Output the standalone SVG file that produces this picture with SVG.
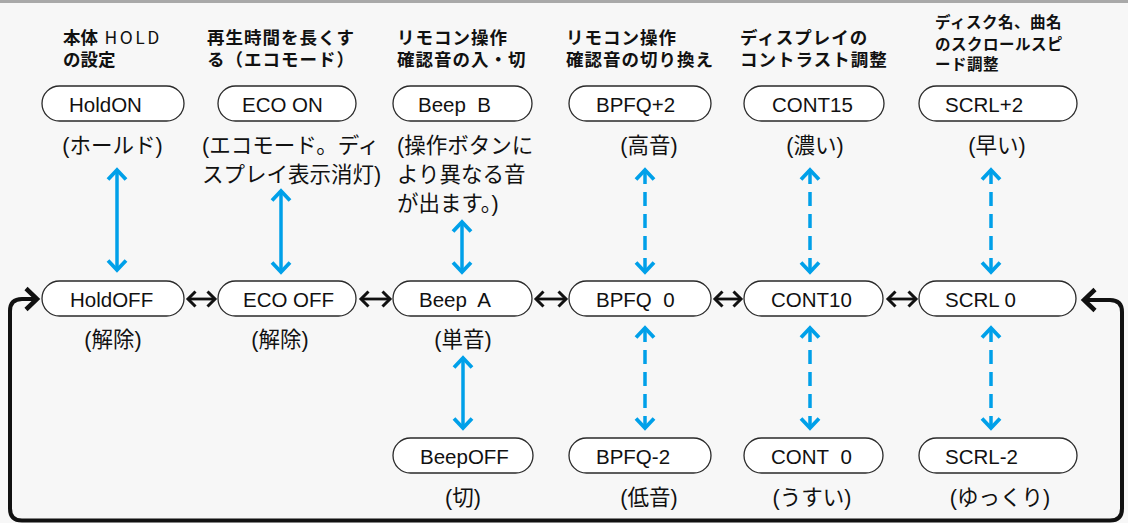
<svg xmlns="http://www.w3.org/2000/svg" width="1128" height="523" viewBox="0 0 1128 523">
<style>
.pill{fill:#fff;stroke:#2a2a2a;stroke-width:1.3}
.pt{font-family:"Liberation Sans",Arial,sans-serif;font-size:20.5px;fill:#111}
.sub{font-family:"Liberation Sans","Noto Sans CJK JP",sans-serif;font-size:21.5px;fill:#111}
.hd{font-family:"Noto Sans CJK JP",sans-serif;font-weight:bold;font-size:17.5px;fill:#111}
.hd6{font-family:"Noto Sans CJK JP",sans-serif;font-weight:bold;font-size:15.5px;fill:#111}
.blue{fill:none;stroke:#00a0e9;stroke-width:3.5}
.dash{stroke-dasharray:14 8}
.blk{fill:none;stroke:#111;stroke-width:2.8}
.loop{fill:none;stroke:#111;stroke-width:4}
</style>
<defs>
<marker id="mb" markerUnits="userSpaceOnUse" orient="auto-start-reverse" refX="0" refY="0" markerWidth="1" markerHeight="1" overflow="visible">
<path d="M-9.5,-9 L0,0 L-9.5,9" fill="none" stroke="#00a0e9" stroke-width="3.8"/>
</marker>
<marker id="mk" markerUnits="userSpaceOnUse" orient="auto-start-reverse" refX="0" refY="0" markerWidth="1" markerHeight="1" overflow="visible">
<path d="M-7.5,-7.5 L0,0 L-7.5,7.5" fill="none" stroke="#111" stroke-width="3"/>
</marker>
<marker id="ml" markerUnits="userSpaceOnUse" orient="auto-start-reverse" refX="0" refY="0" markerWidth="1" markerHeight="1" overflow="visible">
<path d="M-11,-10.5 L0,0 L-11,10.5" fill="none" stroke="#111" stroke-width="4.5"/>
</marker>
</defs>
<rect x="0" y="0" width="1128" height="523" fill="#f7f7f7"/>
<rect x="0" y="0" width="1128" height="3" fill="#a9a9a9"/>

<g id="headers">
<text class="hd" x="63" y="44">本体<tspan font-weight="normal" letter-spacing="2.5"> HOLD</tspan></text>
<text class="hd" x="63" y="66">の設定</text>
<text class="hd" x="207" y="44" letter-spacing="1">再生時間を長くす</text>
<text class="hd" x="207" y="66" letter-spacing="1">る（エコモード）</text>
<text class="hd" x="397" y="44" letter-spacing="1">リモコン操作</text>
<text class="hd" x="397" y="66" letter-spacing="1">確認音の入・切</text>
<text class="hd" x="566" y="44" letter-spacing="1">リモコン操作</text>
<text class="hd" x="566" y="66" letter-spacing="1">確認音の切り換え</text>
<text class="hd" x="740" y="44" letter-spacing="1">ディスプレイの</text>
<text class="hd" x="740" y="66" letter-spacing="1">コントラスト調整</text>
<text class="hd6" x="935" y="28" letter-spacing="0.5">ディスク名、曲名</text>
<text class="hd6" x="935" y="49.5" letter-spacing="0.5">のスクロールスピ</text>
<text class="hd6" x="935" y="70" letter-spacing="0.5">ード調整</text>
</g>

<g id="connectors">
<path class="blue" d="M117,170 V270" marker-start="url(#mb)" marker-end="url(#mb)"/>
<path class="blue" d="M281,191 V272" marker-start="url(#mb)" marker-end="url(#mb)"/>
<path class="blue" d="M462,222 V272" marker-start="url(#mb)" marker-end="url(#mb)"/>
<path class="blue" d="M463,358 V428" marker-start="url(#mb)" marker-end="url(#mb)"/>
<path class="blue dash" d="M645,170 V272" marker-start="url(#mb)" marker-end="url(#mb)"/>
<path class="blue dash" d="M645,328 V428" marker-start="url(#mb)" marker-end="url(#mb)"/>
<path class="blue dash" d="M810,170 V272" marker-start="url(#mb)" marker-end="url(#mb)"/>
<path class="blue dash" d="M810,328 V428" marker-start="url(#mb)" marker-end="url(#mb)"/>
<path class="blue dash" d="M991,170 V272" marker-start="url(#mb)" marker-end="url(#mb)"/>
<path class="blue dash" d="M991,328 V428" marker-start="url(#mb)" marker-end="url(#mb)"/>
<path class="blk" d="M188,299 H215" marker-start="url(#mk)" marker-end="url(#mk)"/>
<path class="blk" d="M361,299 H390" marker-start="url(#mk)" marker-end="url(#mk)"/>
<path class="blk" d="M536,299 H566" marker-start="url(#mk)" marker-end="url(#mk)"/>
<path class="blk" d="M715,299 H741" marker-start="url(#mk)" marker-end="url(#mk)"/>
<path class="blk" d="M888,299 H916" marker-start="url(#mk)" marker-end="url(#mk)"/>
<path class="loop" d="M37,299 H22 Q10,299 10,311 V508.5 Q10,520.5 22,520.5 H1110 Q1122,520.5 1122,508.5 V312 Q1122,300 1110,300 H1084" marker-start="url(#ml)" marker-end="url(#ml)"/>
</g>

<g id="n-holdon"><rect class="pill" x="42" y="86" width="142" height="35" rx="17.5"/><text class="pt" x="69" y="112">HoldON</text><text class="sub" x="112.5" y="153" text-anchor="middle">(ホールド)</text></g>
<g id="n-holdoff"><rect class="pill" x="42" y="281" width="142" height="35" rx="17.5"/><text class="pt" x="70" y="307">HoldOFF</text><text class="sub" x="113" y="347" text-anchor="middle">(解除)</text></g>

<g id="n-ecoon"><rect class="pill" x="218" y="86" width="138" height="35" rx="17.5"/><text class="pt" x="242" y="112">ECO ON</text><text class="sub" x="202" y="153">(エコモード。ディ</text><text class="sub" x="202" y="182">スプレイ表示消灯)</text></g>
<g id="n-ecooff"><rect class="pill" x="218" y="281" width="138" height="35" rx="17.5"/><text class="pt" x="243" y="307">ECO OFF</text><text class="sub" x="280" y="347" text-anchor="middle">(解除)</text></g>

<g id="n-beepb"><rect class="pill" x="393" y="86" width="139" height="35" rx="17.5"/><text class="pt" x="418" y="112">Beep&#160; B</text><text class="sub" x="397" y="153">(操作ボタンに</text><text class="sub" x="397" y="182">より異なる音</text><text class="sub" x="397" y="211">が出ます。)</text></g>
<g id="n-beepa"><rect class="pill" x="393" y="281" width="139" height="35" rx="17.5"/><text class="pt" x="419" y="307">Beep&#160; A</text><text class="sub" x="463" y="347" text-anchor="middle">(単音)</text></g>
<g id="n-beepoff"><rect class="pill" x="393" y="438" width="140" height="35" rx="17.5"/><text class="pt" x="420" y="464">BeepOFF</text><text class="sub" x="463" y="505" text-anchor="middle">(切)</text></g>

<g id="n-bpfqp2"><rect class="pill" x="569" y="86" width="142" height="35" rx="17.5"/><text class="pt" x="596" y="112">BPFQ+2</text><text class="sub" x="649" y="153" text-anchor="middle">(高音)</text></g>
<g id="n-bpfq0"><rect class="pill" x="569" y="281" width="142" height="35" rx="17.5"/><text class="pt" x="596" y="307">BPFQ&#160; 0</text></g>
<g id="n-bpfqm2"><rect class="pill" x="569" y="438" width="142" height="35" rx="17.5"/><text class="pt" x="596" y="464">BPFQ-2</text><text class="sub" x="649" y="505" text-anchor="middle">(低音)</text></g>

<g id="n-cont15"><rect class="pill" x="744" y="86" width="140" height="35" rx="17.5"/><text class="pt" x="772" y="112">CONT15</text><text class="sub" x="815" y="153" text-anchor="middle">(濃い)</text></g>
<g id="n-cont10"><rect class="pill" x="744" y="281" width="139" height="35" rx="17.5"/><text class="pt" x="771" y="307">CONT10</text></g>
<g id="n-cont0"><rect class="pill" x="744" y="438" width="139" height="35" rx="17.5"/><text class="pt" x="771" y="464">CONT&#160; 0</text><text class="sub" x="812" y="505" text-anchor="middle">(うすい)</text></g>

<g id="n-scrlp2"><rect class="pill" x="919" y="86" width="158" height="35" rx="17.5"/><text class="pt" x="945" y="112">SCRL+2</text><text class="sub" x="997" y="153" text-anchor="middle">(早い)</text></g>
<g id="n-scrl0"><rect class="pill" x="919" y="281" width="157" height="35" rx="17.5"/><text class="pt" x="945" y="307">SCRL 0</text></g>
<g id="n-scrlm2"><rect class="pill" x="919" y="438" width="158" height="35" rx="17.5"/><text class="pt" x="945" y="464">SCRL-2</text><text class="sub" x="1000" y="505" text-anchor="middle">(ゆっくり)</text></g>
</svg>
